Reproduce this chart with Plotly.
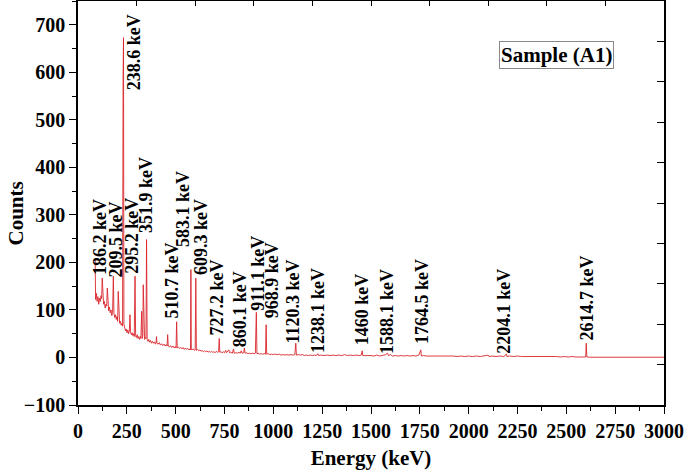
import plotly.graph_objects as go

# ---------------- data ----------------
energy_kev = [
    88, 90, 94, 98, 102, 106, 110, 114, 118, 121, 124, 127, 131, 135, 139, 143, 147, 150, 153, 157,
    161, 165, 169, 173, 177, 181, 184, 188, 192, 196, 200, 203, 206, 209, 213, 217, 221, 225, 228, 231,
    233, 235, 239, 243, 247, 251, 255, 259, 263, 266, 269, 273, 277, 281, 285, 288, 292, 295, 299, 303,
    307, 311, 315, 319, 322, 326, 329, 332, 334, 337, 341, 345, 348, 351, 354, 358, 362, 366, 371, 376,
    381, 386, 391, 396, 400, 402, 404, 410, 416, 422, 428, 434, 440, 446, 452, 456, 459, 462, 468, 474,
    480, 486, 492, 498, 502, 505, 508, 514, 520, 526, 532, 538, 544, 550, 556, 562, 568, 574, 576, 578,
    580, 584, 590, 596, 600, 603, 606, 612, 618, 624, 630, 636, 642, 648, 654, 660, 666, 672, 678, 684,
    690, 696, 702, 708, 714, 720, 723, 726, 732, 738, 744, 750, 756, 760, 766, 772, 776, 782, 790, 796,
    800, 808, 816, 824, 830, 836, 840, 848, 852, 855, 862, 870, 878, 886, 894, 902, 908, 913, 916, 922,
    930, 938, 946, 954, 960, 963, 966, 974, 982, 990, 1000, 1010, 1020, 1030, 1040, 1050, 1060, 1070, 1080, 1090,
    1100, 1110, 1115, 1118, 1130, 1140, 1150, 1160, 1170, 1180, 1190, 1200, 1210, 1220, 1228, 1232, 1245, 1260, 1275, 1290,
    1305, 1320, 1335, 1350, 1365, 1380, 1395, 1410, 1425, 1440, 1450, 1455, 1458, 1470, 1485, 1500, 1515, 1530, 1545, 1560,
    1575, 1585, 1590, 1600, 1610, 1625, 1640, 1655, 1670, 1685, 1700, 1715, 1730, 1745, 1755, 1758, 1770, 1785, 1800, 1820,
    1840, 1860, 1880, 1900, 1920, 1940, 1960, 1980, 2000, 2020, 2040, 2060, 2080, 2100, 2104, 2120, 2140, 2160, 2180, 2193,
    2196, 2210, 2230, 2250, 2270, 2290, 2310, 2330, 2350, 2370, 2390, 2410, 2430, 2450, 2470, 2490, 2510, 2530, 2550, 2570,
    2590, 2599, 2602, 2605, 2620, 2700, 2800, 2900, 3000,
]
counts = [
    205, 122, 135, 118, 128, 112, 125, 118, 130, 124, 167, 120, 112, 118, 104, 112, 108, 146, 104, 98,
    106, 94, 100, 88, 95, 171, 92, 84, 90, 80, 86, 76, 139, 78, 72, 76, 68, 72, 66, 599,
    673, 70, 62, 56, 60, 52, 58, 50, 56, 90, 54, 48, 52, 46, 50, 44, 171, 46, 42, 48,
    40, 44, 38, 44, 40, 97, 40, 46, 153, 44, 38, 42, 40, 248, 38, 34, 38, 32, 36, 30,
    34, 30, 33, 28, 32, 44, 30, 28, 31, 26, 29, 25, 28, 24, 27, 24, 48, 24, 22, 25,
    21, 24, 20, 23, 20, 75, 20, 22, 19, 21, 18, 21, 17, 20, 17, 19, 16, 18, 16, 185,
    17, 16, 18, 15, 16, 167, 15, 17, 14, 16, 13, 15, 12, 14, 12, 14, 11, 13, 11, 13,
    11, 12, 10, 13, 11, 12, 40, 11, 12, 10, 12, 10, 15, 10, 12, 16, 10, 11, 9, 18,
    9, 10, 9, 11, 9, 14, 9, 10, 20, 9, 10, 8, 9, 8, 9, 8, 9, 95, 8, 9,
    7, 8, 7, 8, 7, 69, 7, 8, 6, 7, 6, 7, 6, 7, 5, 6, 5, 6, 5, 6,
    5, 6, 30, 5, 6, 5, 6, 4, 5, 4, 5, 4, 5, 4, 8, 4, 5, 4, 5, 4,
    5, 4, 5, 4, 6, 4, 5, 4, 5, 4, 5, 14, 4, 4, 5, 4, 3, 5, 3, 4,
    6, 9, 4, 6, 3, 4, 3, 4, 3, 4, 3, 4, 3, 5, 16, 3, 4, 3, 3, 4,
    3, 3, 4, 3, 3, 2, 3, 2, 3, 2, 3, 2, 3, 5, 2, 3, 2, 3, 2, 7,
    2, 3, 2, 3, 2, 2, 3, 2, 2, 2, 3, 2, 2, 2, 1, 2, 1, 2, 1, 1,
    1, 1, 30, 1, 0.5, 0.5, 0.5, 0.5, 0.5,
]

peak_labels = [
    "186.2 keV", "209.5 keV", "238.6 keV", "295.2 keV", "351.9 keV", "510.7 keV",
    "583.1 keV", "609.3 keV", "727.2 keV", "860.1 keV", "911.1 keV", "968.9 keV",
    "1120.3 keV", "1238.1 keV", "1460 keV", "1588.1 keV", "1764.5 keV", "2204.1 keV",
    "2614.7 keV",
]
# anchor (energy, counts) of the bottom-centre of each vertical label
label_anchor_e = [112, 194, 284, 279, 351, 481, 537, 629, 711, 834, 921, 997,
                  1100, 1228, 1453, 1581, 1760, 2184, 2604]
label_anchor_c = [171, 166, 561, 173, 259, 80, 230, 171, 44, 19, 97, 80,
                  27, 8, 23, 6, 27, 6, 34]

legend_text = "Sample (A1)"
x_title = "Energy (keV)"
y_title = "Counts"

# ---------------- figure ----------------
SERIF = "Liberation Serif"

fig = go.Figure()
fig.add_trace(go.Scatter(
    x=energy_kev, y=counts, mode="lines",
    line=dict(color="#d9262b", width=0.9),
    showlegend=False, hoverinfo="skip",
))
# helper trace for the mirrored top/right axes
fig.add_trace(go.Scatter(x=[None], y=[None], xaxis="x2", yaxis="y2",
                         showlegend=False, hoverinfo="skip"))

annotations = []
for txt, e, c in zip(peak_labels, label_anchor_e, label_anchor_c):
    annotations.append(dict(
        x=e, y=c, xref="x", yref="y", text=txt, showarrow=False,
        textangle=-90, xanchor="center", yanchor="bottom", borderpad=0,
        font=dict(family=SERIF, size=18, color="black", weight="bold"),
    ))
annotations.append(dict(
    x=0.817, y=0.867, xref="paper", yref="paper", text=legend_text,
    showarrow=False, xanchor="center", yanchor="middle",
    bordercolor="#888888", borderwidth=1, borderpad=1,
    font=dict(family=SERIF, size=21, color="black", weight="bold"),
))
# y-axis title (pixel location converted to paper coordinates)
annotations.append(dict(
    x=(16 - 78) / 586, y=(404 - 213) / 403, xref="paper", yref="paper",
    text=y_title, showarrow=False, textangle=-90,
    xanchor="center", yanchor="middle",
    font=dict(family=SERIF, size=21, color="black", weight="bold"),
))

axis_font = dict(family=SERIF, size=20, color="black", weight="bold")
title_font = dict(family=SERIF, size=21, color="black", weight="bold")

fig.update_layout(
    width=685, height=472,
    margin=dict(l=78, r=21, t=1, b=67),
    paper_bgcolor="white", plot_bgcolor="white",
    annotations=annotations,
    xaxis=dict(
        range=[0, 3000], tick0=0, dtick=250, ticks="outside", ticklen=7,
        tickwidth=1.2, tickcolor="black", showline=True, linecolor="black",
        linewidth=1.5, showgrid=False, zeroline=False, tickfont=axis_font,
        minor=dict(dtick=125, ticks="outside", ticklen=4, tickcolor="black", tickwidth=1),
        title=dict(text=x_title, font=title_font, standoff=10),
    ),
    yaxis=dict(
        range=[-100, 750], tick0=0, dtick=100, ticks="outside", ticklen=7,
        tickwidth=1.2, tickcolor="black", showline=True, linecolor="black",
        linewidth=1.5, showgrid=False, zeroline=False, tickfont=axis_font,
        minor=dict(dtick=50, ticks="outside", ticklen=4, tickcolor="black", tickwidth=1),
    ),
    xaxis2=dict(
        overlaying="x", side="top", range=[0, 3000],
        tickvals=[0, 300, 600, 900, 1200, 1500, 1800, 2100, 2400, 2700, 3000],
        ticks="inside", ticklen=5, tickcolor="black", showticklabels=False,
        showline=True, linecolor="black", linewidth=1.5, showgrid=False, zeroline=False,
    ),
    yaxis2=dict(
        overlaying="y", side="right", range=[-100, 750],
        tickvals=[-100, -15, 70, 155, 240, 325, 410, 495, 580, 665, 750],
        ticks="inside", ticklen=7, tickcolor="black", showticklabels=False,
        showline=True, linecolor="black", linewidth=1.5, showgrid=False, zeroline=False,
    ),
)

fig.write_html(
    "out.html",
    config={"displayModeBar": False},
    post_script="document.body.style.margin='0';document.body.style.padding='0';",
)
